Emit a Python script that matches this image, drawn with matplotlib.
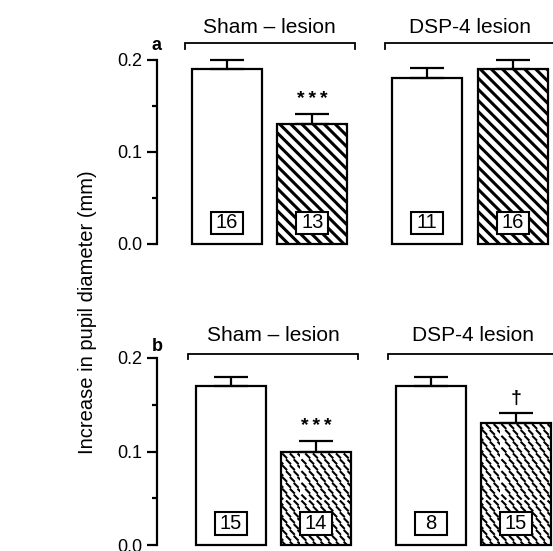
import numpy as np
import matplotlib
matplotlib.use("Agg")
import matplotlib.pyplot as plt
import matplotlib.hatch as mhatch
from matplotlib.path import Path
from matplotlib.patches import Rectangle

# ---------------- data ----------------
group_labels = ['Sham – lesion', 'DSP-4 lesion']
panel_labels = ['a', 'b']

a_means = [0.190, 0.130, 0.180, 0.190]
a_sem = [0.010, 0.011, 0.011, 0.010]
a_n = ['16', '13', '11', '16']
a_sig = ['', '***', '', '']

b_means = [0.170, 0.100, 0.170, 0.130]
b_sem = [0.010, 0.011, 0.010, 0.011]
b_n = ['15', '14', '8', '15']
b_sig = ['', '***', '', '†']

y_ticks = [0.0, 0.1, 0.2]
y_ticklabels = ['0.0', '0.1', '0.2']
y_label = 'Increase in pupil diameter (mm)'


# ---------------- custom short-dash hatch (replaces '*') ----------------
class ShortDashes(mhatch.HatchPatternBase):
    def __init__(self, hatch, density):
        n = hatch.count('*')
        self.cols = 13 * n
        self.rows = 17 * n
        self.num_vertices = 2 * self.cols * self.rows if n else 0

    def set_vertices_and_codes(self, vertices, codes):
        d = 0.017
        pts = []
        for j in range(self.rows):
            y = (j + 0.5) / self.rows
            off = 0.5 * (j % 2) / self.cols
            for i in range(self.cols):
                x = (i + 0.5) / self.cols + off
                pts.append((x - d, y + d))
                pts.append((x + d, y - d))
        vertices[:] = np.array(pts)
        codes[0::2] = Path.MOVETO
        codes[1::2] = Path.LINETO


_ht = mhatch._hatch_types
_ht[_ht.index(mhatch.Stars)] = ShortDashes

plt.rcParams['font.family'] = ['Liberation Sans', 'DejaVu Sans']

W, H = 553, 551
fig = plt.figure(figsize=(W / 100, H / 100), dpi=100)
fig.patch.set_facecolor('white')

LW = 1.6
xmax = 396 / 70.0
base_pos = np.array([1.0, 2.22, 3.86, 5.08])

panels = [
    dict(means=a_means, sem=a_sem, n=a_n, sig=a_sig, hatch='\\\\\\', hlw=2.2,
         bottom=244, top=60, shift=0.0, txt_y=0.229, br_y=0.2185, br_tick=0.212,
         lab_y=0.211),
    dict(means=b_means, sem=b_sem, n=b_n, sig=b_sig, hatch='*', hlw=1.5,
         bottom=545, top=358, shift=0.05, txt_y=0.218, br_y=0.2045, br_tick=0.199,
         lab_y=0.2075),
]

for k, p in enumerate(panels):
    left = 157 / W
    width = 1 - left
    bottom = (H - p['bottom']) / H
    height = (p['bottom'] - p['top']) / H
    ax = fig.add_axes([left, bottom, width, height])
    ax.set_facecolor('none')
    ax.set_xlim(0, xmax)
    ax.set_ylim(0, 0.2)

    pos = base_pos + p['shift']
    hatches = [None, p['hatch'], None, p['hatch']]
    for i in range(4):
        with plt.rc_context({'hatch.linewidth': p['hlw'], 'hatch.color': 'black'}):
            bars = ax.bar(pos[i], p['means'][i], width=1.0, color='white',
                          edgecolor='black', linewidth=LW, hatch=hatches[i],
                          zorder=2, clip_on=False)
        for b in bars:
            if hasattr(b, 'set_hatch_linewidth'):
                b.set_hatch_linewidth(p['hlw'])

    ax.errorbar(pos, p['means'], yerr=[np.zeros(4), p['sem']], fmt='none',
                ecolor='black', elinewidth=LW, capsize=12, capthick=LW,
                zorder=3, clip_on=False)

    # n boxes
    bw = 32 / 70.0
    for i in range(4):
        ax.add_patch(Rectangle((pos[i] - bw / 2, 0.011), bw, 0.024,
                               facecolor='white', edgecolor='black',
                               linewidth=1.5, zorder=4))
        ax.text(pos[i], 0.0235, p['n'][i], ha='center', va='center',
                fontsize=14.5, zorder=5)

    # significance
    for i in range(4):
        s = p['sig'][i]
        if s:
            top = p['means'][i] + p['sem'][i]
            if s == '†':
                ax.text(pos[i], top + 0.011, s, ha='center', va='baseline',
                        fontsize=14, fontweight='bold', clip_on=False)
            else:
                ax.text(pos[i], top + 0.011, '\u2009'.join(s), ha='center',
                        va='baseline', fontsize=14, fontweight='bold',
                        clip_on=False)

    # group brackets and labels
    for g in range(2):
        mid = (pos[2 * g] + pos[2 * g + 1]) / 2
        x0, x1 = mid - 1.214, mid + 1.214
        ax.plot([x0, x0, x1, x1], [p['br_tick'], p['br_y'], p['br_y'], p['br_tick']],
                color='black', lw=1.3, clip_on=False, solid_joinstyle='miter')
        ax.text(mid, p['txt_y'], group_labels[g], ha='center', va='baseline',
                fontsize=15, clip_on=False)

    ax.text(0, p['lab_y'], panel_labels[k], ha='center', va='baseline',
            fontsize=13, fontweight='bold', clip_on=False)

    for s in ['top', 'right', 'bottom']:
        ax.spines[s].set_visible(False)
    ax.spines['left'].set_linewidth(LW)
    ax.spines['left'].set_bounds(0, 0.2)
    ax.set_xticks([])
    ax.set_yticks(y_ticks)
    ax.set_yticklabels(y_ticklabels, fontsize=13)
    ax.set_yticks([0.05, 0.15], minor=True)
    ax.tick_params(axis='y', which='major', length=7, width=LW, pad=3.5)
    ax.tick_params(axis='y', which='minor', length=3.5, width=LW)

fig.text(88 / W, (H - 312) / H, y_label, rotation=90, ha='center', va='center',
         fontsize=14.5)

fig.savefig('out.png', dpi=100, facecolor='white')
